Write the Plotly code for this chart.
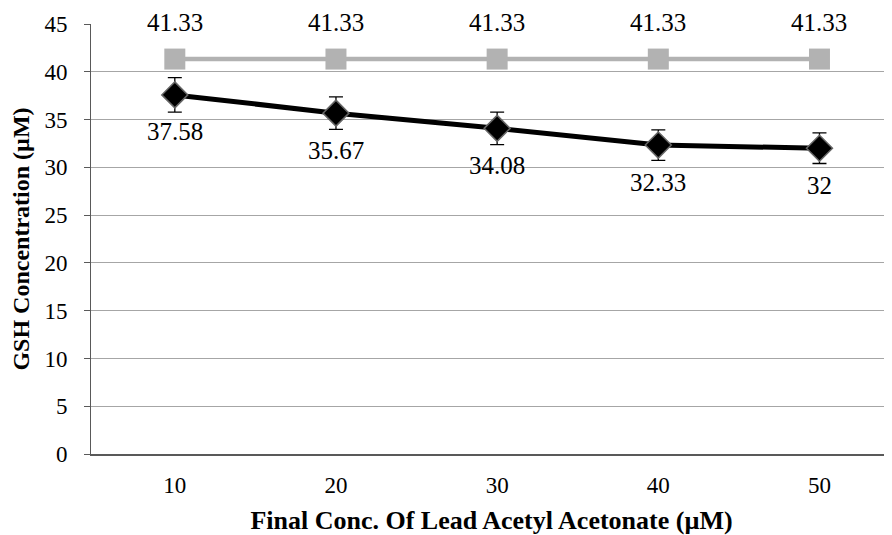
import plotly.graph_objects as go

categories = ["10", "20", "30", "40", "50"]
treated = [37.58, 35.67, 34.08, 32.33, 32.0]
treated_err = [1.8, 1.7, 1.7, 1.6, 1.6]
control = [41.33, 41.33, 41.33, 41.33, 41.33]
y_ticks = [0, 5, 10, 15, 20, 25, 30, 35, 40, 45]

xs = list(range(len(categories)))
FONT = "Liberation Serif, Times New Roman, serif"

fig = go.Figure()
fig.add_trace(go.Scatter(
    x=xs, y=control, mode="lines+markers",
    line=dict(color="#b2b2b2", width=4.5),
    marker=dict(symbol="square", size=21, color="#b2b2b2"),
    showlegend=False,
))
fig.add_trace(go.Scatter(
    x=xs, y=treated, mode="lines+markers",
    line=dict(color="#000000", width=5),
    marker=dict(symbol="diamond", size=20, color="#000000",
                line=dict(color="#666666", width=1.5)),
    error_y=dict(type="data", array=treated_err, color="#000000",
                 thickness=1.3, width=7),
    showlegend=False,
))

annotations = []
for i, v in enumerate(control):
    annotations.append(dict(x=xs[i], y=v, text=f"{v:g}", showarrow=False,
                            yshift=37, font=dict(family=FONT, size=25, color="#000")))
for i, v in enumerate(treated):
    annotations.append(dict(x=xs[i], y=v, text=f"{v:g}", showarrow=False,
                            yshift=-37, font=dict(family=FONT, size=25, color="#000")))

fig.update_layout(
    width=884, height=527,
    margin=dict(l=83, r=0, t=16, b=81),
    paper_bgcolor="white", plot_bgcolor="white",
    font=dict(family=FONT, size=23, color="#000"),
    annotations=annotations,
    xaxis=dict(
        range=[-0.52, 4.45], tickvals=xs, ticktext=categories,
        showgrid=False, zeroline=False, showline=True,
        linecolor="#595959", linewidth=2, ticks="",
        ticklabelstandoff=9,
        tickfont=dict(family=FONT, size=23),
        title=dict(text="<b>Final Conc. Of Lead Acetyl Acetonate (µM)</b>",
                   font=dict(family=FONT, size=26), standoff=19),
    ),
    yaxis=dict(
        range=[0, 45], tickvals=y_ticks,
        showgrid=True, gridcolor="#a6a6a6", gridwidth=1,
        zeroline=False, showline=True, linecolor="#595959", linewidth=1,
        ticks="outside", ticklen=6, tickcolor="#595959",
        ticklabelstandoff=12,
        tickfont=dict(family=FONT, size=23),
        title=dict(text="<b>GSH Concentration (µM)</b>",
                   font=dict(family=FONT, size=24), standoff=8),
    ),
)
fig.write_html("out.html")
